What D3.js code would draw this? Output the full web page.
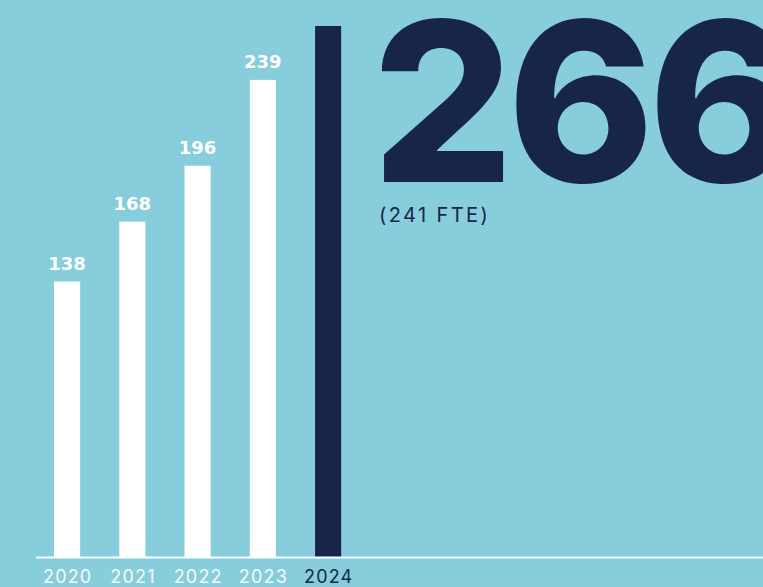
<!DOCTYPE html>
<html>
<head>
<meta charset="utf-8">
<script src="https://cdn.jsdelivr.net/npm/d3@7/dist/d3.min.js"></script>
<style>
  html, body { margin: 0; padding: 0; background: #87cddc; overflow: hidden; }
  svg { display: block; }
</style>
</head>
<body>
<svg id="chart" width="763" height="587"></svg>
<script>
// Headcount per year
const years = ["2020", "2021", "2022", "2023", "2024"];
const headcount = [138, 168, 196, 239, 266];
const highlightYear = "2024";
const highlightValue = "266";
const highlightNote = "(241 FTE)";

const W = 763, H = 587;
const bg = "#87cddc", navy = "#172648", white = "#ffffff";
const baseY = 557;

const svg = d3.select("#chart");
svg.append("rect").attr("width", W).attr("height", H).attr("fill", bg);

const x = d3.scaleBand()
  .domain(years)
  .range([21.4, 373.8])
  .paddingInner(0.6)
  .paddingOuter(0.5);

const y = d3.scaleLinear()
  .domain([0, d3.max(headcount)])
  .range([baseY, 26]);

const data = years.map((yr, i) => ({ year: yr, value: headcount[i] }));

// bars
svg.append("g").selectAll("rect")
  .data(data)
  .join("rect")
  .attr("x", d => x(d.year))
  .attr("width", x.bandwidth())
  .attr("y", d => y(d.value))
  .attr("height", d => baseY - y(d.value))
  .attr("fill", d => d.year === highlightYear ? navy : white);

// value labels above the earlier bars
svg.append("g").selectAll("text")
  .data(data.filter(d => d.year !== highlightYear))
  .join("text")
  .attr("x", d => x(d.year) + x.bandwidth() / 2)
  .attr("y", d => y(d.value) - 12)
  .attr("text-anchor", "middle")
  .attr("fill", white)
  .style("font-family", "'DejaVu Sans', sans-serif")
  .style("font-weight", 700)
  .style("font-size", "18px")
  .text(d => d.value);

// baseline
svg.append("line")
  .attr("x1", 36).attr("x2", W)
  .attr("y1", baseY + 0.5).attr("y2", baseY + 0.5)
  .attr("stroke", white)
  .attr("stroke-width", 2);

// year axis
const axis = d3.axisBottom(x).tickSize(0).tickPadding(0);
const gx = svg.append("g")
  .attr("transform", `translate(0,${baseY})`)
  .call(axis);
gx.select(".domain").remove();
gx.selectAll("text")
  .attr("y", 25.5)
  .attr("dy", null)
  .attr("dx", "0.6")
  .attr("fill", d => d === highlightYear ? navy : "#f4fafc")
  .style("font-family", "Inter, 'Liberation Sans', sans-serif")
  .style("font-size", "18px")
  .style("letter-spacing", "1.2px");

// headline figure for the latest year
svg.append("text")
  .attr("x", 372)
  .attr("y", 182)
  .attr("fill", navy)
  .style("font-family", "Inter, 'Liberation Sans', sans-serif")
  .style("font-weight", 800)
  .style("font-size", "222px")
  .style("letter-spacing", "-6px")
  .text(highlightValue);

svg.append("text")
  .attr("x", 379)
  .attr("y", 222)
  .attr("fill", navy)
  .style("font-family", "Inter, 'Liberation Sans', sans-serif")
  .style("font-size", "20px")
  .style("letter-spacing", "2.4px")
  .text(highlightNote);
</script>
</body>
</html>
